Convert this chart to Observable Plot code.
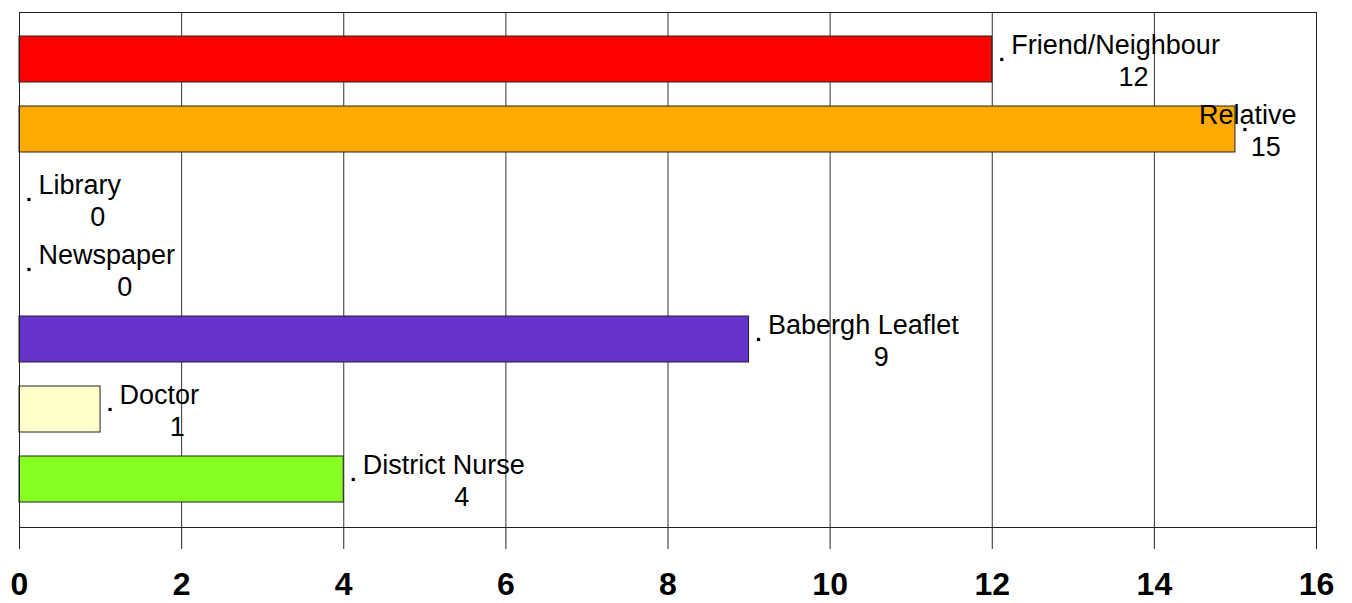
<!DOCTYPE html>
<html>
<head>
<meta charset="utf-8">
<script src="https://cdn.jsdelivr.net/npm/d3@7"></script>
<script src="https://cdn.jsdelivr.net/npm/@observablehq/plot@0.6"></script>
<style>
  html, body { margin: 0; padding: 0; background: #fff; }
  #chart svg { display: block; }
</style>
</head>
<body>
<div id="chart"></div>
<script>
const categories = ["Friend/Neighbour", "Relative", "Library", "Newspaper", "Babergh Leaflet", "Doctor", "District Nurse"];
const values = [12, 15, 0, 0, 9, 1, 4];
const colors = ["#FF0000", "#FFAA00", "#FFFFFF", "#FFFFFF", "#6633CC", "#FFFFCC", "#88FF22"];
const xTicks = [0, 2, 4, 6, 8, 10, 12, 14, 16];

const W = 1352, H = 603, ML = 19, MR = 36, MT = 12, MB = 76;
const FONT = "Liberation Sans, Arial, Helvetica, sans-serif";
const data = categories.map((c, i) => ({cat: c, value: values[i], color: colors[i]}));

const ctx = document.createElement("canvas").getContext("2d");
ctx.font = "27px 'Liberation Sans', Arial, sans-serif";
const px = d3.scaleLinear([0, 16], [ML, W - MR]);
const limit = W - MR - 20;

const labelMarks = data.flatMap(d => {
  const w = ctx.measureText(d.cat).width;
  const start = px(d.value) + 19;
  const shift = Math.min(0, limit - (start + w));
  const nameDx = 19 + shift;
  return [
    Plot.text([d], {x: "value", y: "cat", text: "cat", textAnchor: "start",
      dx: nameDx, dy: -14, fontSize: 27, fill: "#000"}),
    Plot.text([d], {x: "value", y: "cat", text: d => String(d.value), textAnchor: "middle",
      dx: nameDx + w / 2 + 18, dy: 18, fontSize: 27, fill: "#000"})
  ];
});

const chart = Plot.plot({
  width: W,
  height: H,
  marginLeft: ML,
  marginRight: MR,
  marginTop: MT,
  marginBottom: MB,
  style: {fontFamily: FONT, fontSize: "27px", background: "#fff", color: "#000", overflow: "visible"},
  x: {domain: [0, 16], ticks: xTicks},
  y: {domain: categories, paddingInner: 0.34, paddingOuter: 0.33, axis: null},
  color: {type: "identity"},
  marks: [
    Plot.gridX(xTicks, {stroke: "#333", strokeOpacity: 1, strokeWidth: 1}),
    Plot.barX(data, {x: "value", y: "cat", fill: d => d.color, stroke: "#222", strokeWidth: 1}),
    Plot.frame({stroke: "#222", strokeWidth: 1}),
    Plot.axisX(xTicks, {
      tickSize: 22, tickPadding: 23, stroke: "#222",
      fontSize: 32, fontWeight: "bold", label: null, tickFormat: d => String(d)
    }),
    Plot.dot(data, {x: "value", y: "cat", symbol: "square", r: 1.8, fill: "#000", stroke: null, dx: 9.5}),
    ...labelMarks
  ]
});
document.getElementById("chart").appendChild(chart);
</script>
</body>
</html>
